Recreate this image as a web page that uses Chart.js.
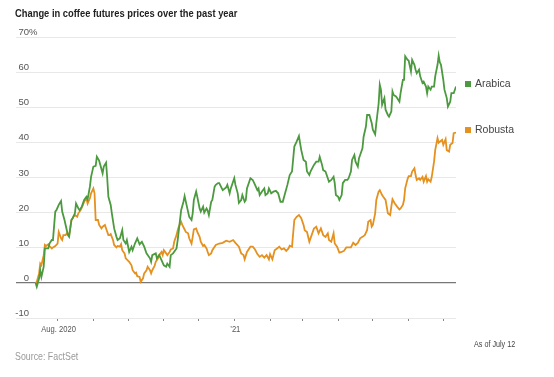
<!DOCTYPE html>
<html>
<head>
<meta charset="utf-8">
<script src="https://cdn.jsdelivr.net/npm/chart.js@4.4.1/dist/chart.umd.min.js"></script>
<style>
  body { margin: 0; background: #fff; }
  #wrap { position: relative; width: 554px; height: 377px; font-family: "Liberation Sans", Arial, sans-serif; }
  canvas { position: absolute; left: 0; top: 0; }
  .title, .source, .asof { position: absolute; white-space: nowrap; transform-origin: 0 0; }
  .title { left: 15px; top: 7px; font-weight: bold; font-size: 11px; color: #222; transform: scaleX(0.85); }
  .source { left: 15px; top: 350px; font-size: 10.5px; color: #999; transform: scaleX(0.84); }
  .asof { left: 474px; top: 339px; font-size: 9px; color: #444; transform: scaleX(0.8); }
</style>
</head>
<body>
<div id="wrap">
  <canvas id="coffeeChart" width="554" height="377"></canvas>
  <div class="title">Change in coffee futures prices over the past year</div>
  <div class="source">Source: FactSet</div>
  <div class="asof">As of July 12</div>
</div>
<script>
// x = days since Aug. 1, 2020, y = % change over the past year
const arabica = [
  [-19,0],[-18,-1.1],[-16,1.3],[-15,3.6],[-14,1.7],[-12,4.6],[-11,9.8],[-8,9.8],[-7,11.2],[-5,12.2],[-4,12.2],[-2,20.3],[-1,20.7],
  [1,22.2],[3,23.3],[4,20.3],[6,17.9],[8,15],[9,13.6],[10,13.1],[12,17.9],[13,18.4],[15,19.8],[16,22.6],[18,21.2],[19,20.7],[21,21.7],[23,23.6],[25,24.5],[26,23.8],[28,27.4],[29,30.2],
  [31,33.1],[33,33.3],[34,35.9],[36,34.8],[39,31.2],[40,33.1],[42,34.2],[43,29.8],[44,24.5],[46,22.2],[47,19.8],[49,15.5],[51,13.1],[52,12.2],[54,12.7],[56,15],[57,12.2],[59,11.2],[60,12.2],
  [62,8.8],[64,10.3],[65,9.3],[67,11.2],[69,12.7],[71,11],[73,11.7],[75,10.3],[77,8.4],[80,7],[81,6],[82,7.9],[85,8.4],[86,7],[88,7.9],[90,6.5],
  [92,5],[94,4.6],[95,5.5],[97,4.6],[98,7.9],[100,8.4],[103,9.8],[104,12.2],[105,15],[107,20.7],[109,23.1],[110,24.7],[112,21.7],[114,18.8],[116,17.9],[117,19.8],[118,23.6],[120,26],[121,24.5],
  [123,21.2],[124,20.3],[126,21.7],[127,20],[129,21.2],[130,20.5],[131,19.3],[133,23.1],[134,23.6],[136,27.4],[137,27.9],[139,28.4],[140,28.4],[143,26.4],[146,27.2],[147,27.9],[149,25.5],[150,26.9],
  [153,29.8],[154,27.9],[156,25.5],[157,22.8],[159,23.6],[160,25],[162,23.1],[163,23.6],[164,26.9],[167,29.8],[169,29.3],[171,27.9],[173,26.4],[174,26.9],[175,25],[177,26],[179,26.9],[180,25],[182,25.5],[183,26.9],
  [185,25.5],[187,26],[189,26.2],[191,25.5],[193,23.1],[195,23.1],[197,25.5],[199,27.9],[201,30.7],[203,31.7],[205,38.8],[207,40.2],[209,41.8],[210,39.8],[211,37.8],
  [213,35],[215,34.5],[216,31.7],[218,30.7],[219,31.7],[222,33.6],[224,34.5],[226,34.5],[227,35.9],[229,33.6],[230,32.1],[232,31.7],[234,29.8],[235,28.8],[237,29.3],[239,30.2],[240,28.4],[241,25],
  [243,24.5],[244,23.6],[246,25],[247,28.4],[249,29.3],[251,29.3],[252,29.8],[254,31.7],[255,35],[257,36.4],[258,34.5],[260,33.1],[261,35.5],[262,36.4],[264,38.3],[265,41.6],[267,44.5],[268,47.8],[270,47.8],[272,45.5],
  [273,43.6],[275,42.3],[276,45.5],[278,51],[279,56.4],[280,55],[281,50.7],[283,52.6],[284,49.3],[286,47.8],[287,47.3],[289,48.8],[290,54.5],[291,53.5],[293,53.1],[294,52.6],[296,51.6],[297,54],[299,57.8],[300,57.8],[301,64.5],
  [303,63.5],[304,63.3],[306,60.2],[307,63.5],[309,62.1],[310,60.7],[311,59.7],[313,60.7],[314,58.8],[316,56.9],[317,57.3],[319,55.9],[320,54],[321,55.9],[323,55],[324,55.9],[326,55.9],[327,58.8],[329,62.1],[330,64.7],[331,62.8],[332,62.1],
  [334,57.8],[335,55],[337,52.6],[338,50.2],[340,51.6],[341,54],[343,54],[345,55.9]
];

const robusta = [
  [-19,0],[-18,0.3],[-16,2.7],[-15,5.5],[-14,5],[-12,7.9],[-11,10.8],[-10,10.5],[-8,11],[-7,10.5],[-5,9.8],[-4,10.1],[-2,10.5],
  [0,11.2],[1,14.5],[3,12.7],[4,12.2],[5,13.6],[7,13.6],[8,14.1],[10,13.6],[12,17.9],[13,18.4],[15,19.3],[17,18.8],[18,19.8],[20,20.7],[22,22.2],[23,23.1],[25,24.1],[26,22.6],[28,24.1],[29,25.5],
  [31,26.9],[32,25.5],[33,17.9],[35,17.9],[36,16.5],[38,15.5],[39,16],[41,16.5],[42,15.5],[44,13.6],[45,13.6],[46,13.9],[48,12.2],[49,10.8],[51,10.1],[52,10.5],[54,10.3],[55,11],[56,9.3],[58,8.4],[59,7],
  [62,6],[64,5],[65,3.6],[67,2.7],[68,2.9],[69,1.9],[71,1.7],[72,0.3],[74,1.3],[75,2.7],[77,3.6],[78,4.6],[80,3.6],[81,2.7],[82,3.6],[84,4.8],[85,6],[87,7],[88,7.9],[90,8.8],
  [91,7.9],[92,9.3],[94,8.4],[95,7.9],[97,8.8],[98,9.5],[100,9.8],[101,11.7],[103,13.6],[104,15],[105,16],[107,17.4],[108,16.5],[110,15.2],[111,14.5],[113,14.1],[114,12.7],[116,11.2],[117,13.1],[118,15.2],[120,15.5],[121,14.5],
  [123,13.1],[124,11.7],[126,10.5],[127,10.8],[129,9.8],[130,8.8],[131,7.9],[133,8.4],[134,9.3],[137,10.8],[140,11.2],[143,11.4],[146,12],[149,11.7],[152,12.2],
  [154,11.4],[157,10.3],[159,8.4],[161,7.9],[162,6.7],[164,8.8],[167,10.3],[169,10.3],[171,9.5],[173,8.2],[175,7.4],[177,7.9],[179,7.2],[181,7.9],[183,6.7],
  [184,8.2],[186,6.7],[188,9.3],[190,9.8],[192,10.3],[194,9.5],[196,9.8],[198,9.1],[200,9.8],[201,10.6],[203,10.3],[205,17.9],[207,18.8],[209,19.3],[211,18.4],
  [213,16.5],[214,15],[216,14.5],[218,11.7],[220,13.6],[222,15.5],[224,16],[226,14.1],[228,15.5],[230,13.6],[232,13.1],[234,14.1],[235,12.2],[237,11.7],[239,14.1],[240,11.2],[242,10.3],
  [244,8.6],[246,8.8],[248,9.1],[250,10.1],[252,10.1],[254,10.1],[256,11.4],[258,10.8],[260,11.4],[262,12.7],[264,13.1],[266,13.6],[268,15],[269,17.4],[271,17.9],[272,16],
  [273,16.5],[275,19.8],[276,23.6],[278,26],[279,26.4],[281,25],[282,24.5],[284,23.6],[285,21.7],[286,19.8],[288,19.3],[289,21.7],[290,23.8],[292,22.6],[294,21.7],[296,20.9],[297,21.2],[299,22.2],[300,23.6],[301,26.9],
  [303,29.5],[304,30.4],[306,30.4],[307,31.7],[309,32.6],[310,30.7],[311,29.3],[313,29.8],[314,29.3],[316,30.2],[317,28.8],[319,30.4],[320,28.8],[321,29.5],[323,28.8],[324,30.2],[326,34.5],[327,37.8],[329,41.2],[330,39.9],[331,40.2],[333,40.7],
  [334,39.3],[336,40.9],[337,37.8],[339,37.4],[340,39.3],[342,39.8],[343,42.6],[345,42.8]
];

// first day of each month, Aug. 2020 .. July 2021
const monthTicks = [0, 31, 61, 92, 122, 153, 184, 212, 243, 273, 304, 334];
const monthLabels = ['Aug. 2020', '', '', '', '', '\u201921', '', '', '', '', '', ''];

const GREEN = '#4c9a3f';
const ORANGE = '#e4911f';
const SANS = '"Liberation Sans", Arial, sans-serif';

Chart.defaults.font.family = SANS;

// axis labels (condensed like the original), y labels above their grid lines,
// series names at the line ends
const overlay = {
  id: 'overlay',
  afterDraw(chart) {
    const { ctx, chartArea, scales } = chart;
    const { x, y } = scales;
    ctx.save();
    ctx.font = '9.5px ' + SANS;
    ctx.fillStyle = '#555';
    ctx.textBaseline = 'alphabetic';
    y.ticks.forEach(t => {
      const py = y.getPixelForValue(t.value) - 2;
      ctx.textAlign = 'right';
      ctx.fillText(String(t.value), chartArea.left + 13, py);
      if (t.value === y.max) {
        ctx.textAlign = 'left';
        ctx.fillText('%', chartArea.left + 13, py);
      }
    });

    ctx.font = '9.5px ' + SANS;
    ctx.textAlign = 'center';
    ctx.textBaseline = 'middle';
    x.ticks.forEach((t, i) => {
      if (!monthLabels[i]) return;
      const px = x.getPixelForValue(t.value) + 1;
      ctx.save();
      ctx.translate(px, chartArea.bottom + 11);
      ctx.scale(0.8, 1);
      ctx.fillText(monthLabels[i], 0, 0);
      ctx.restore();
    });

    chart.data.datasets.forEach((ds, i) => {
      const pts = chart.getDatasetMeta(i).data;
      const ly = pts[pts.length - 1].y - 2.5;
      ctx.fillStyle = ds.borderColor;
      ctx.fillRect(chartArea.right + 9, ly - 3, 6, 6);
      ctx.fillStyle = '#444';
      ctx.font = '10.5px ' + SANS;
      ctx.textAlign = 'left';
      ctx.textBaseline = 'middle';
      ctx.fillText(ds.label, chartArea.right + 19, ly + 0.5);
    });
    ctx.restore();
  }
};

const ctx = document.getElementById('coffeeChart').getContext('2d');
new Chart(ctx, {
  type: 'line',
  data: {
    datasets: [
      { label: 'Arabica', data: arabica.map(([x, y]) => ({ x, y })), borderColor: GREEN, borderWidth: 1.8, pointRadius: 0, tension: 0 },
      { label: 'Robusta', data: robusta.map(([x, y]) => ({ x, y })), borderColor: ORANGE, borderWidth: 1.8, pointRadius: 0, tension: 0 }
    ]
  },
  options: {
    responsive: false,
    animation: false,
    layout: { padding: { left: 16, right: 98, top: 37, bottom: 56 } },
    plugins: { legend: { display: false }, tooltip: { enabled: false } },
    scales: {
      x: {
        type: 'linear',
        min: -36,
        max: 345,
        afterBuildTicks: scale => { scale.ticks = monthTicks.map(v => ({ value: v })); },
        ticks: { display: false },
        grid: { drawOnChartArea: false, drawTicks: true, tickLength: 3, color: '#888' },
        border: { display: false }
      },
      y: {
        min: -10,
        max: 70,
        ticks: { stepSize: 10, display: false },
        grid: {
          drawTicks: false,
          color: c => c.tick.value === 0 ? '#777' : '#e8e8e8',
          lineWidth: c => c.tick.value === 0 ? 1.3 : 1
        },
        border: { display: false }
      }
    }
  },
  plugins: [overlay]
});
</script>
</body>
</html>
